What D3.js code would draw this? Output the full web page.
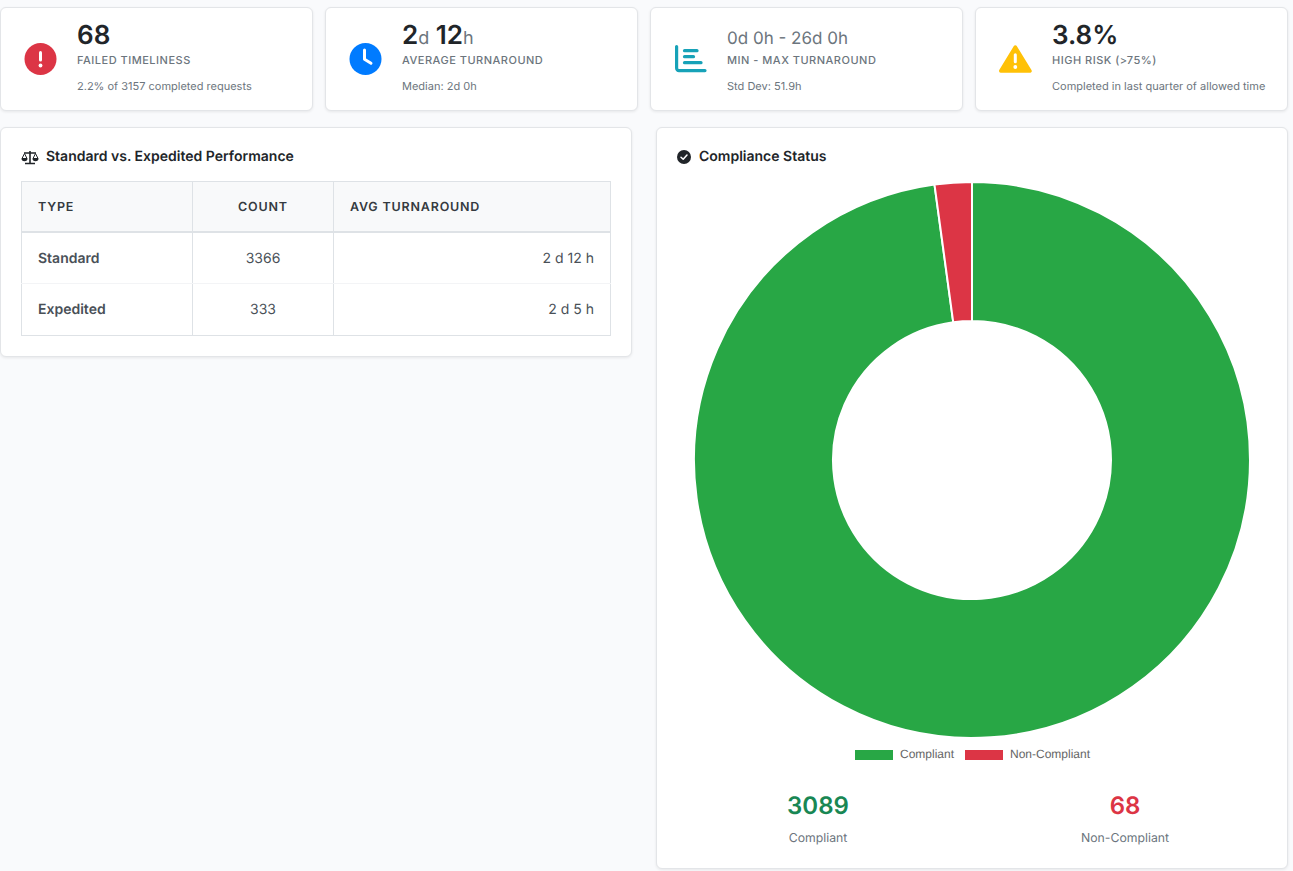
<!DOCTYPE html>
<html>
<head>
<meta charset="utf-8">
<script src="https://cdn.jsdelivr.net/npm/d3@7"></script>
<style>
html, body { margin: 0; padding: 0; background: #f9fafc; }
body { width: 1293px; height: 871px; position: relative; overflow: hidden; font-family: Inter, sans-serif; color: #212529; text-rendering: geometricPrecision; }
.card { position: absolute; box-sizing: border-box; background: #fff; border: 1px solid #e3e5e8; border-radius: 6px; box-shadow: 0 1px 3px rgba(0,0,0,.08); }
.kpi { top: 7px; width: 313px; height: 104px; }
.kpi svg { position: absolute; left: 23px; top: 35px; }
.kpi div { position: absolute; left: 76px; white-space: nowrap; }
.value { top: 12px; font-size: 26px; line-height: 32px; font-weight: 600; color: #212529; }
.value small { font-size: 18px; font-weight: 400; color: #6c757d; }
.value.light { font-size: 17px; font-weight: 400; color: #6c757d; top: 15px; line-height: 32px; }
.label { top: 45px; font-size: 11px; line-height: 14px; font-weight: 500; letter-spacing: .5px; color: #6c757d; }
.sub { top: 71px; font-size: 11px; line-height: 14px; color: #6c757d; }
.title { position: absolute; left: 45px; top: 20px; font-size: 14px; line-height: 18px; font-weight: 600; color: #212529; white-space: nowrap; }
table { position: absolute; left: 20px; top: 53px; border-collapse: collapse; table-layout: fixed; font-size: 14px; color: #495057; }
th, td { border: 1px solid #dee2e6; padding: 2px 16px 0; box-sizing: border-box; }
th { height: 50px; background: #f8f9fa; font-size: 12.5px; font-weight: 600; letter-spacing: .8px; color: #343a40; border-bottom-width: 2px; text-align: left; }
td { height: 52.5px; padding-top: 0; }
tbody tr:first-child td { height: 51.5px; padding-top: 2px; border-bottom-color: #f3f4f6; }
.bold { font-weight: 600; }
.c { text-align: center; }
.r { text-align: right; }
.legend { position: absolute; font-family: "Liberation Sans", Arial, sans-serif; font-size: 12px; color: #666; white-space: nowrap; }
.swatch { position: absolute; width: 38px; height: 10px; }
.stat { position: absolute; text-align: center; transform: translateX(-50%); white-space: nowrap; }
.stat b { display: block; font-size: 24px; line-height: 30px; font-weight: 600; }
.stat span { display: block; margin-top: 9px; font-size: 12.25px; line-height: 16px; color: #6c757d; }
</style>
</head>
<body>
<script>
// kpi row
const kpiLeft = [0, 325, 650, 975];
const kpiLabels = ["FAILED TIMELINESS", "AVERAGE TURNAROUND", "MIN - MAX TURNAROUND", "HIGH RISK (>75%)"];
const kpiValues = ["68", "2<small>d</small> 12<small>h</small>", "0d 0h - 26d 0h", "3.8%"];
const kpiSubs = ["2.2% of 3157 completed requests", "Median: 2d 0h", "Std Dev: 51.9h", "Completed in last quarter of allowed time"];
const kpiIcons = ["alert", "clock", "bars", "warn"];

// table
const tableHead = ["TYPE", "COUNT", "AVG TURNAROUND"];
const tableTypes = ["Standard", "Expedited"];
const tableCounts = [3366, 333];
const tableAvg = ["2 d 12 h", "2 d 5 h"];

// donut
const statusNames = ["Compliant", "Non-Compliant"];
const statusValues = [3089, 68];
const statusColors = ["#28a745", "#dc3545"];
const statColors = ["#198754", "#dc3545"];

const body = d3.select("body");

function draw_icon(svg, kind){
	if(kind == "alert"){
		svg.append("circle").attr("cx",16.5).attr("cy",16).attr("r",16).attr("fill","#dc3545");
		svg.append("rect").attr("x",15).attr("y",8).attr("width",3).attr("height",10.5).attr("rx",1.5).attr("fill","#fff");
		svg.append("circle").attr("cx",16.5).attr("cy",22.5).attr("r",1.9).attr("fill","#fff");
	}
	if(kind == "clock"){
		svg.append("circle").attr("cx",16.5).attr("cy",16).attr("r",16).attr("fill","#007bff");
		svg.append("path").attr("d","M15.5 7V16.3L22 20.3").attr("fill","none").attr("stroke","#fff").attr("stroke-width",3).attr("stroke-linecap","round").attr("stroke-linejoin","round");
	}
	if(kind == "bars"){
		svg.append("path").attr("d","M2.6 3.5V25A2.5 2.5 0 0 0 5 27.6H31").attr("fill","none").attr("stroke","#17a2b8").attr("stroke-width",3.2).attr("stroke-linecap","round");
		svg.selectAll("line").data([[10.5,23,7.7],[10.5,19.5,13.7],[10.5,27,19.7]]).enter().append("line")
			.attr("x1",d=>d[0]).attr("x2",d=>d[1]).attr("y1",d=>d[2]).attr("y2",d=>d[2])
			.attr("stroke","#17a2b8").attr("stroke-width",3.2).attr("stroke-linecap","round");
	}
	if(kind == "warn"){
		svg.append("path").attr("d","M16.3 4L31 28H1.7Z").attr("fill","#ffc107").attr("stroke","#ffc107").attr("stroke-width",3.4).attr("stroke-linejoin","round");
		svg.append("rect").attr("x",14.8).attr("y",10.3).attr("width",3).attr("height",10).attr("rx",1.5).attr("fill","#fff");
		svg.append("circle").attr("cx",16.3).attr("cy",24).attr("r",1.9).attr("fill","#fff");
	}
}

kpiLeft.forEach((x, i) => {
	const card = body.append("div").attr("class","card kpi").style("left", x+"px");
	const icon = card.append("svg").attr("width",36).attr("height",36);
	draw_icon(icon, kpiIcons[i]);
	card.append("div").attr("class", i == 2 ? "value light" : "value").html(kpiValues[i]);
	card.append("div").attr("class","label").text(kpiLabels[i]);
	card.append("div").attr("class","sub").text(kpiSubs[i]);
});

// left panel with the table
const left = body.append("div").attr("class","card").style("left","0px").style("top","127px").style("width","632px").style("height","230px");
const scale = left.append("svg").attr("width",18).attr("height",15).style("position","absolute").style("left","20px").style("top","22px");
scale.append("path").attr("d","M9 1V13M4 13.5H14M3 3H15").attr("stroke","#212529").attr("stroke-width",1.6).attr("fill","none");
scale.append("path").attr("d","M3.5 3.5L1 8.5H6ZM14.5 3.5L12 8.5H17Z").attr("stroke","#212529").attr("stroke-width",1).attr("fill","none");
scale.append("path").attr("d","M.5 8.5A3 2.8 0 0 0 6.5 8.5ZM11.5 8.5A3 2.8 0 0 0 17.5 8.5Z").attr("fill","#212529");
left.append("div").attr("class","title").text("Standard vs. Expedited Performance");

const table = left.append("table").style("width","589px");
const colW = [171, 141, 277];
table.append("colgroup").selectAll("col").data(colW).enter().append("col").style("width", d=>d+"px");
table.append("thead").append("tr").selectAll("th").data(tableHead).enter().append("th")
	.attr("class",(d,i)=> i==1 ? "c" : null).text(d=>d);
const rows = table.append("tbody").selectAll("tr").data(tableTypes).enter().append("tr");
rows.append("td").attr("class","bold").text(d=>d);
rows.append("td").attr("class","c").text((d,i)=>tableCounts[i]);
rows.append("td").attr("class","r").text((d,i)=>tableAvg[i]);

// right panel with the donut
const right = body.append("div").attr("class","card").style("left","656px").style("top","127px").style("width","632px").style("height","742px");
const check = right.append("svg").attr("width",16).attr("height",16).style("position","absolute").style("left","18.5px").style("top","21px");
check.append("circle").attr("cx",8).attr("cy",8).attr("r",7).attr("fill","#212529");
check.append("path").attr("d","M5 8.2L7.2 10.3L11 6").attr("fill","none").attr("stroke","#fff").attr("stroke-width",1.5).attr("stroke-linecap","round").attr("stroke-linejoin","round");
right.append("div").attr("class","title").style("left","42px").text("Compliance Status");

const svg = body.append("svg").attr("width",1293).attr("height",871).style("position","absolute").style("left",0).style("top",0).style("pointer-events","none");
const pie = d3.pie().sort(null)(statusValues);
const arc = d3.arc().innerRadius(139).outerRadius(278);
svg.append("g").attr("transform","translate(972,460)").selectAll("path").data(pie).enter().append("path")
	.attr("d", arc)
	.attr("fill",(d,i)=>statusColors[i])
	.attr("stroke","#fff").attr("stroke-width",2).attr("stroke-linejoin","round");

// legend
const legendX = [855, 965];
statusNames.forEach((n, i) => {
	body.append("div").attr("class","swatch").style("left",legendX[i]+"px").style("top","750px").style("background",statusColors[i]);
	body.append("div").attr("class","legend").style("left",(legendX[i]+45)+"px").style("top","747px").text(n);
});

// totals under the donut
const statX = [818, 1125];
statusNames.forEach((n, i) => {
	const s = body.append("div").attr("class","stat").style("left",statX[i]+"px").style("top","791px");
	s.append("b").style("color",statColors[i]).text(statusValues[i]);
	s.append("span").text(n);
});
</script>
</body>
</html>
